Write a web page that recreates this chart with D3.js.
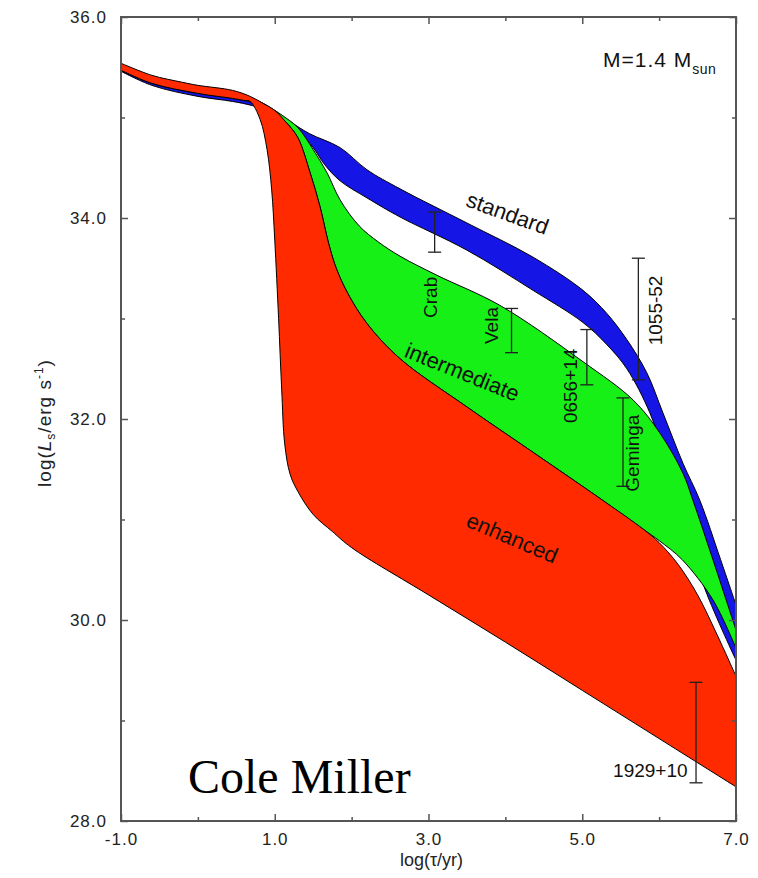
<!DOCTYPE html>
<html><head><meta charset="utf-8">
<script src="https://cdn.jsdelivr.net/npm/d3@7"></script>
<style>body{margin:0;background:#fff} svg{display:block}</style>
</head><body><svg id="chart" width="758" height="878"></svg>
<script>
// Axis ticks
const xTicksMajor = [-1, 1, 3, 5, 7];
const xTicksMinor = [0, 2, 4, 6];
const yTicksMajor = [28, 30, 32, 34, 36];
const yTicksMinor = [29, 31, 33, 35];

// Cooling curves: log(age/yr) vs log(L/erg s^-1), upper and lower edge of each band
const standardUpper = [[-1,35.52],[-0.6,35.40],[0,35.30],[0.45,35.25],[0.8,35.16],[1.0,35.07],[1.2,34.96],[1.45,34.84],[1.85,34.7],[2.2,34.48],[2.63,34.29],[3.5,33.95],[4.36,33.61],[5.01,33.28],[5.32,33.05],[5.58,32.79],[5.84,32.46],[6.05,32.06],[6.31,31.56],[6.53,31.19],[6.8,30.6],[7.0,30.15]];
const standardLower = [[-1,35.46],[-0.6,35.32],[0,35.21],[0.45,35.16],[0.7,35.12],[0.9,35.07],[1.1,34.98],[1.3,34.87],[1.5,34.7],[1.65,34.53],[1.85,34.37],[2.2,34.2],[2.63,34.01],[3.5,33.68],[4.36,33.28],[5.01,32.96],[5.32,32.74],[5.58,32.5],[5.88,32.06],[6.1,31.56],[6.23,31.19],[6.6,30.3],[7.0,29.6]];

const intermediateUpper = [[-1,35.5],[-0.6,35.38],[0,35.27],[0.45,35.22],[0.8,35.14],[1.0,35.07],[1.1,35.02],[1.3,34.9],[1.5,34.68],[1.68,34.45],[1.85,34.18],[2.1,33.92],[2.35,33.76],[2.63,33.62],[3.11,33.43],[3.93,33.13],[5.01,32.57],[5.66,32.19],[6.01,31.86],[6.31,31.46],[6.44,31.19],[6.7,30.6],[7.0,29.9]];
const intermediateLower = [[-1,35.47],[-0.6,35.34],[0,35.24],[0.45,35.19],[0.8,35.13],[1.0,35.05],[1.15,34.95],[1.3,34.8],[1.46,34.45],[1.59,34.11],[1.7,33.75],[1.8,33.5],[1.95,33.25],[2.2,32.95],[2.63,32.6],[3.5,32.12],[4.3,31.7],[5.23,31.21],[5.8,30.9],[6.0,30.79],[6.3,30.6],[6.7,30.2],[7.0,29.72]];

const enhancedUpper = [[-1,35.54],[-0.6,35.42],[-0.2,35.35],[0,35.32],[0.45,35.27],[0.68,35.21],[0.85,35.14],[1.0,35.07],[1.15,34.95],[1.3,34.8],[1.46,34.45],[1.59,34.11],[1.7,33.75],[1.8,33.5],[1.95,33.25],[2.2,32.95],[2.63,32.6],[3.5,32.12],[4.3,31.7],[5.23,31.21],[5.8,30.9],[6.0,30.77],[6.25,30.55],[6.5,30.25],[6.75,29.86],[7.0,29.44]];
const enhancedLower = [[-1,35.47],[-0.6,35.34],[0,35.24],[0.45,35.19],[0.6,35.17],[0.68,35.16],[0.81,34.98],[0.9,34.68],[0.96,34.28],[1.0,33.78],[1.05,33.0],[1.09,32.3],[1.13,31.75],[1.2,31.45],[1.3,31.28],[1.5,31.05],[1.75,30.88],[2.0,30.72],[3.0,30.25],[4.0,29.78],[5.0,29.3],[6.0,28.82],[7.0,28.34]];

// Observed pulsars: name, log age, luminosity range
const pulsarNames = ["Crab", "Vela", "0656+14", "Geminga", "1055-52", "1929+10"];
const pulsarAge   = [3.08, 4.08, 5.06, 5.53, 5.73, 6.48];
const pulsarLow   = [33.66, 32.66, 32.34, 31.33, 32.39, 28.38];
const pulsarHigh  = [34.06, 33.10, 32.89, 32.21, 33.60, 29.38];

const svg = d3.select("#chart");
const W = 758, H = 878;
const x = d3.scaleLinear().domain([-1, 7]).range([121, 736]);
const y = d3.scaleLinear().domain([28, 36]).range([821, 17]);
const font = "'Liberation Sans', Arial, Helvetica, sans-serif";

svg.append("rect").attr("width", W).attr("height", H).attr("fill", "#fff");

svg.append("defs").append("clipPath").attr("id", "plotClip")
  .append("rect").attr("x", x(-1)).attr("y", y(36)).attr("width", x(7) - x(-1)).attr("height", y(28) - y(36));

const edge = d3.line().x(d => x(d[0])).y(d => y(d[1])).curve(d3.curveCatmullRom.alpha(0.5));
function band(upper, lower) {
  const a = edge(upper);
  const b = edge(lower.slice().reverse());
  return a + "L" + b.slice(1) + "Z";
}

const plot = svg.append("g").attr("clip-path", "url(#plotClip)");
const bands = [
  { up: standardUpper, lo: standardLower, fill: "#1515e6" },
  { up: intermediateUpper, lo: intermediateLower, fill: "#16f016" },
  { up: enhancedUpper, lo: enhancedLower, fill: "#ff2a00" }
];
plot.selectAll("path.band").data(bands).join("path")
  .attr("class", "band")
  .attr("d", d => band(d.up, d.lo))
  .attr("fill", d => d.fill)
  .attr("stroke", "#000").attr("stroke-width", 1).attr("stroke-linejoin", "round");

// Error bars
const bars = svg.append("g").attr("stroke", "#222").attr("stroke-width", 1.3);
pulsarNames.forEach((n, i) => {
  const cx = x(pulsarAge[i]);
  bars.append("line").attr("x1", cx).attr("x2", cx).attr("y1", y(pulsarLow[i])).attr("y2", y(pulsarHigh[i]));
  [pulsarLow[i], pulsarHigh[i]].forEach(v => {
    bars.append("line").attr("x1", cx - 6.5).attr("x2", cx + 6.5).attr("y1", y(v)).attr("y2", y(v));
  });
});

// Pulsar names: rotated beside their bars, 1929+10 horizontal
const nameSpots = {
  "Crab":    { px: 3.02, py: 33.21, rot: -90, anchor: "middle" },
  "Vela":    { px: 3.81, py: 32.93, rot: -90, anchor: "middle" },
  "0656+14": { px: 4.84, py: 32.33, rot: -90, anchor: "middle" },
  "Geminga": { px: 5.65, py: 31.66, rot: -90, anchor: "middle" },
  "1055-52": { px: 5.95, py: 33.08, rot: -90, anchor: "middle" },
  "1929+10": { px: 6.37, py: 28.51, rot: 0, anchor: "end" }
};
pulsarNames.forEach(n => {
  const s = nameSpots[n];
  svg.append("text")
    .attr("transform", `translate(${x(s.px)},${y(s.py)}) rotate(${s.rot})`)
    .attr("text-anchor", s.anchor).attr("dy", "0.36em")
    .attr("font-family", font).attr("font-size", 19).attr("fill", "#111")
    .text(n);
});

// Band names along the curves
const bandNames = [
  { t: "standard", px: 4.03, py: 34.05, rot: 20 },
  { t: "intermediate", px: 3.44, py: 32.47, rot: 22 },
  { t: "enhanced", px: 4.09, py: 30.82, rot: 23 }
];
bandNames.forEach(b => {
  svg.append("text")
    .attr("transform", `translate(${x(b.px)},${y(b.py)}) rotate(${b.rot})`)
    .attr("text-anchor", "middle").attr("dy", "0.36em")
    .attr("font-family", font).attr("font-size", 22).attr("fill", "#111")
    .text(b.t);
});

// Axes, ticks pointing inward on all four sides
const fmt = d => d.toFixed(1);
function styleAxis(g) {
  g.select(".domain").remove();
  g.selectAll(".tick line").attr("stroke", "#555").attr("stroke-width", 1.5);
  g.selectAll(".tick text").attr("font-family", font).attr("font-size", 17)
    .attr("letter-spacing", 1).attr("fill", "#222");
}
svg.append("g").attr("transform", `translate(0,${y(28)})`)
  .call(d3.axisBottom(x).tickValues(xTicksMajor).tickSize(-7).tickPadding(12).tickFormat(fmt)).call(styleAxis);
svg.append("g").attr("transform", `translate(0,${y(28)})`)
  .call(d3.axisBottom(x).tickValues(xTicksMinor).tickSize(-4).tickFormat("")).call(styleAxis);
svg.append("g").attr("transform", `translate(0,${y(36)})`)
  .call(d3.axisTop(x).tickValues(xTicksMajor).tickSize(-7).tickFormat("")).call(styleAxis);
svg.append("g").attr("transform", `translate(0,${y(36)})`)
  .call(d3.axisTop(x).tickValues(xTicksMinor).tickSize(-4).tickFormat("")).call(styleAxis);
svg.append("g").attr("transform", `translate(${x(-1)},0)`)
  .call(d3.axisLeft(y).tickValues(yTicksMajor).tickSize(-7).tickPadding(14).tickFormat(fmt)).call(styleAxis);
svg.append("g").attr("transform", `translate(${x(-1)},0)`)
  .call(d3.axisLeft(y).tickValues(yTicksMinor).tickSize(-4).tickFormat("")).call(styleAxis);
svg.append("g").attr("transform", `translate(${x(7)},0)`)
  .call(d3.axisRight(y).tickValues(yTicksMajor).tickSize(-7).tickFormat("")).call(styleAxis);
svg.append("g").attr("transform", `translate(${x(7)},0)`)
  .call(d3.axisRight(y).tickValues(yTicksMinor).tickSize(-4).tickFormat("")).call(styleAxis);

// Frame
svg.append("rect").attr("x", x(-1)).attr("y", y(36)).attr("width", x(7) - x(-1)).attr("height", y(28) - y(36))
  .attr("fill", "none").attr("stroke", "#555").attr("stroke-width", 2);

// Axis titles
svg.append("text").attr("x", (x(-1) + x(7)) / 2 + 3).attr("y", 866)
  .attr("text-anchor", "middle").attr("font-family", font).attr("font-size", 18).attr("fill", "#222")
  .text("log(\u03c4/yr)");

const yt = svg.append("text")
  .attr("transform", `translate(51,423) rotate(-90)`)
  .attr("text-anchor", "middle").attr("font-family", font).attr("font-size", 19)
  .attr("letter-spacing", 1).attr("fill", "#222");
yt.append("tspan").text("log(");
yt.append("tspan").attr("font-style", "italic").text("L");
yt.append("tspan").attr("font-size", 12).attr("dy", 4).text("s");
yt.append("tspan").attr("dy", -4).text("/erg s");
yt.append("tspan").attr("font-size", 12).attr("dy", -8).text("-1");
yt.append("tspan").attr("dy", 8).text(")");

// Mass label
const ml = svg.append("text").attr("x", 603).attr("y", 67)
  .attr("font-family", font).attr("font-size", 21).attr("letter-spacing", 1).attr("fill", "#111");
ml.append("tspan").text("M=1.4 M");
ml.append("tspan").attr("font-size", 14).attr("letter-spacing", 0.5).attr("dy", 7).text("sun");

// Author signature
svg.append("text").attr("x", 188).attr("y", 793)
  .attr("font-family", "'Liberation Serif', 'Times New Roman', serif").attr("font-size", 48).attr("fill", "#000")
  .text("Cole Miller");
</script>
</body></html>
